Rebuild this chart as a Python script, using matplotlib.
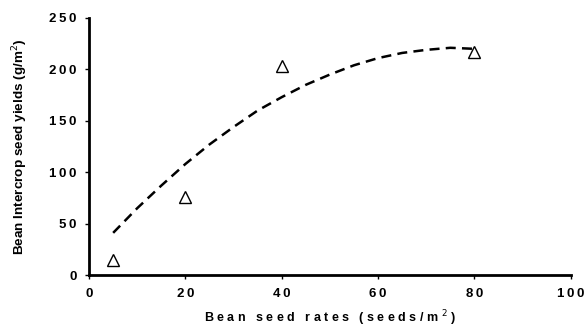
import matplotlib
matplotlib.use("Agg")
import matplotlib.pyplot as plt

# observed data
seed_rate = [5, 20, 40, 80]
yield_obs = [15, 76, 203, 217]

# fitted curve
fit_x = [5, 10, 15, 20, 25, 30, 35, 40, 45, 50, 55, 60, 65, 70, 75, 80]
fit_y = [41, 65, 87, 108, 127, 144, 160, 173, 185, 195, 204, 211, 216, 219, 221, 220]

x_ticks = [0, 20, 40, 60, 80, 100]
y_ticks = [0, 50, 100, 150, 200, 250]

plt.rcParams['font.family'] = ['Liberation Sans', 'DejaVu Sans']

fig = plt.figure(figsize=(5.86, 3.27), dpi=100)
ax = fig.add_axes([0.152, 0.159, 0.822, 0.786])

ax.plot(fit_x, fit_y, linestyle=(0, (4, 2.5)), color='black', linewidth=1.8)
ax.plot(seed_rate, yield_obs, linestyle='none', marker='^', markersize=9,
        markerfacecolor='white', markeredgecolor='black', markeredgewidth=1.0)

ax.set_xlim(0, 100)
ax.set_ylim(0, 250)
ax.set_xticks(x_ticks)
ax.set_yticks(y_ticks)

def spaced(v):
    return '\u2009'.join(str(v))

ax.set_xticklabels([spaced(v) for v in x_ticks], fontsize=9.5, fontweight='bold')
ax.set_yticklabels([spaced(v) for v in y_ticks], fontsize=9.5, fontweight='bold')

for s in ['top', 'right']:
    ax.spines[s].set_visible(False)
for s in ['left', 'bottom']:
    ax.spines[s].set_linewidth(2)
ax.tick_params(direction='out', length=3, width=1, pad=6)

ax.set_xlabel('B e a n   s e e d   r a t e s   ( s e e d s / m $^{2}$ )',
              fontsize=9, fontweight='bold', labelpad=6.5)
ax.set_ylabel('Bean Intercrop seed yields (g/m$^{2}$)', fontsize=9.7,
              fontweight='bold', labelpad=14)

fig.savefig('out.png', dpi=100)
